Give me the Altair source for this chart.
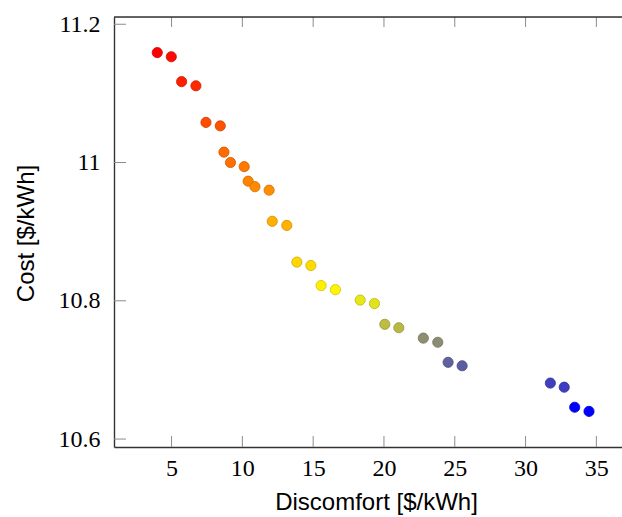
import altair as alt
import pandas as pd

# Pareto points: discomfort [$/kWh], cost [$/kWh], colour meta (0 = red, 0.5 = yellow, 1 = blue)
discomfort = [3.99, 4.98, 5.71, 6.72, 7.43, 8.44, 8.70, 9.16, 10.13, 10.41,
              10.89, 11.89, 12.11, 13.14, 13.85, 14.84, 15.56, 16.57, 18.32, 19.33,
              20.06, 21.05, 22.78, 23.80, 24.53, 25.52, 31.75, 32.73, 33.47, 34.48]
cost = [11.159, 11.153, 11.117, 11.111, 11.058, 11.053, 11.015, 11.000, 10.994, 10.973,
        10.965, 10.960, 10.915, 10.909, 10.856, 10.851, 10.822, 10.816, 10.801, 10.796,
        10.766, 10.761, 10.746, 10.740, 10.711, 10.706, 10.681, 10.675, 10.646, 10.640]
meta = [0.00, 0.02, 0.06, 0.08, 0.15, 0.16, 0.21, 0.22, 0.235, 0.26,
        0.27, 0.28, 0.345, 0.35, 0.42, 0.43, 0.47, 0.48, 0.545, 0.555,
        0.63, 0.64, 0.72, 0.725, 0.81, 0.82, 0.875, 0.88, 1.00, 1.00]

x_ticks = [5, 10, 15, 20, 25, 30, 35]
y_ticks = [10.6, 10.8, 11.0, 11.2]

W, H = 508, 430
x_dom = [0.935, 36.81]
y_dom = [10.5885, 11.2105]

df = pd.DataFrame({"d": discomfort, "c": cost, "m": meta})
xt = pd.DataFrame({"v": x_ticks})
yt = pd.DataFrame({"v": y_ticks})
one = pd.DataFrame({"a": [0]})

xs = alt.Scale(domain=x_dom, nice=False, zero=False)
ys = alt.Scale(domain=y_dom, nice=False, zero=False)

x_axis = alt.Axis(values=x_ticks, format="~g", ticks=False, tickSize=0, grid=False,
                  labelFont="Liberation Serif", labelFontSize=24, labelColor="black",
                  labelPadding=9, labelBaseline="top",
                  domainColor="#333333", domainWidth=1.4,
                  title="Discomfort [$/kWh]", titleFont="Liberation Sans",
                  titleFontSize=24, titleFontWeight="normal", titleColor="black",
                  titleX=262, titleY=62, titleBaseline="alphabetic", titleAlign="center")
y_axis = alt.Axis(values=y_ticks, format="~g", ticks=False, tickSize=0, grid=False,
                  labelFont="Liberation Serif", labelFontSize=24, labelColor="black",
                  labelPadding=14, labelBaseline="middle",
                  domainColor="#333333", domainWidth=1.4,
                  title="Cost [$/kWh]", titleFont="Liberation Sans",
                  titleFontSize=24, titleFontWeight="normal", titleColor="black",
                  titleX=-81, titleY=216, titleAngle=270, titleBaseline="alphabetic",
                  titleAlign="center")

points = alt.Chart(df).mark_circle(size=104, opacity=1, strokeWidth=0.8).encode(
    x=alt.X("d:Q", scale=xs, axis=x_axis),
    y=alt.Y("c:Q", scale=ys, axis=y_axis),
    fill=alt.Fill("m:Q", scale=alt.Scale(domain=[0, 0.5, 1],
                                         range=["#ff0000", "#ffff00", "#0000ff"],
                                         interpolate="rgb"), legend=None),
    stroke=alt.Stroke("m:Q", scale=alt.Scale(domain=[0, 0.5, 1],
                                             range=["#cc0000", "#cccc00", "#0000cc"],
                                             interpolate="rgb"), legend=None),
)

tick_color = "#8c8c8c"
bottom_ticks = alt.Chart(xt).mark_rule(color=tick_color, strokeWidth=1).encode(
    x=alt.X("v:Q", scale=xs), y=alt.value(H), y2=alt.value(H - 11))
top_ticks = alt.Chart(xt).mark_rule(color=tick_color, strokeWidth=1).encode(
    x=alt.X("v:Q", scale=xs), y=alt.value(0), y2=alt.value(10))
left_ticks = alt.Chart(yt).mark_rule(color=tick_color, strokeWidth=1).encode(
    y=alt.Y("v:Q", scale=ys), x=alt.value(0), x2=alt.value(12))
top_border = alt.Chart(one).mark_rule(color="#333333", strokeWidth=1.4).encode(
    x=alt.value(0), x2=alt.value(W), y=alt.value(0))

chart = alt.layer(bottom_ticks, top_ticks, left_ticks, top_border, points).properties(
    width=W, height=H,
    autosize=alt.AutoSizeParams(type="none"),
    padding={"left": 114, "top": 17, "right": 0, "bottom": 70},
).configure_view(stroke=None).configure(background="white")

chart.save("out.html", embed_options={"renderer": "svg", "actions": False})
